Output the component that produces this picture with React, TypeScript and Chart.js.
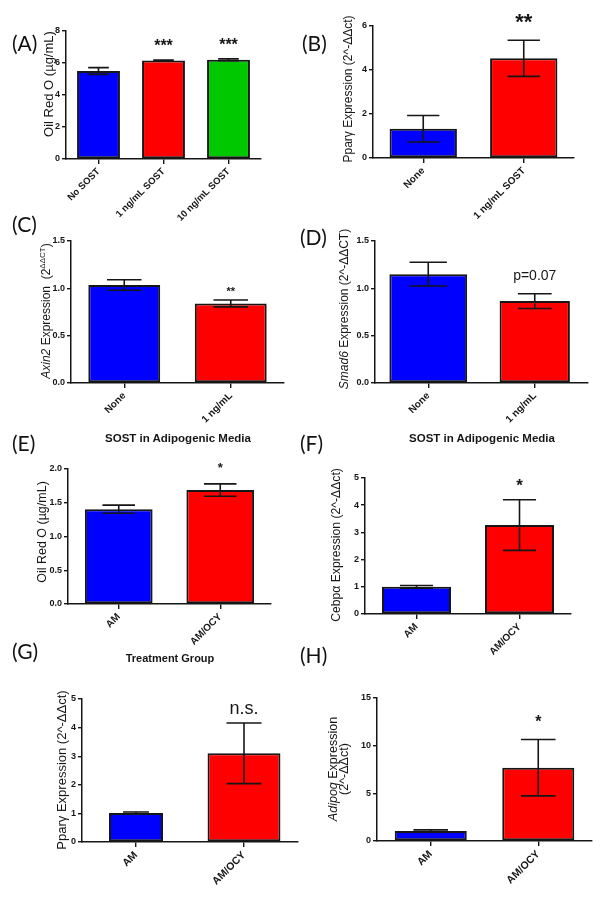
import React, { useEffect, useRef } from "react";
import { Chart, registerables } from "chart.js";

Chart.register(...registerables);

const FONT = "'Liberation Sans', Arial, Helvetica, sans-serif";
const LABEL_FONT = "Lato, 'Open Sans', sans-serif";
const INK = "#161616";
const BLUE = "#0000FF";
const RED = "#FF0000";
const GREEN = "#00C800";

// ---- Panel A: Oil Red O, SOST dose ----
const catsA = ["No SOST", "1 ng/mL SOST", "10 ng/mL SOST"];
const meanA = [5.5, 6.15, 6.2];
const semA = [0.21, 0.03, 0.06];
const sigA = ["", "***", "***"];
const ticksA = [0, 2, 4, 6, 8];

// ---- Panel B: Ppary ----
const catsB = ["None", "1 ng/mL SOST"];
const meanB = [1.33, 4.53];
const semB = [0.6, 0.82];
const sigB = ["", "**"];
const ticksB = [0, 2, 4, 6];

// ---- Panel C: Axin2 ----
const catsC = ["None", "1 ng/mL"];
const meanC = [1.035, 0.84];
const semC = [0.055, 0.036];
const sigC = ["", "**"];
const ticksC = [0, 0.5, 1.0, 1.5];

// ---- Panel D: Smad6 ----
const catsD = ["None", "1 ng/mL"];
const meanD = [1.15, 0.865];
const semD = [0.125, 0.078];
const sigD = ["", "p=0.07"];
const ticksD = [0, 0.5, 1.0, 1.5];

// ---- Panel E: Oil Red O, AM vs AM/OCY ----
const catsE = ["AM", "AM/OCY"];
const meanE = [1.405, 1.688];
const semE = [0.06, 0.092];
const sigE = ["", "*"];
const ticksE = [0, 0.5, 1.0, 1.5, 2.0];

// ---- Panel F: Cebpa ----
const catsF = ["AM", "AM/OCY"];
const meanF = [1.0, 3.27];
const semF = [0.05, 0.93];
const sigF = ["", "*"];
const ticksF = [0, 1, 2, 3, 4, 5];

// ---- Panel G: Ppary ----
const catsG = ["AM", "AM/OCY"];
const meanG = [1.01, 3.1];
const semG = [0.04, 1.06];
const sigG = ["", "n.s."];
const ticksG = [0, 1, 2, 3, 4, 5];

// ---- Panel H: Adipoq ----
const catsH = ["AM", "AM/OCY"];
const meanH = [1.05, 7.69];
const semH = [0.12, 2.96];
const sigH = ["", "*"];
const ticksH = [0, 5, 10, 15];

type PanelCfg = {
  cats: string[];
  means: number[];
  sems: number[];
  sigs: string[];
  ticks: number[];
  dec: number;
  colors: string[];
  widths: number[];
  area: [number, number, number, number];
  sigFont: string;
  sigGap: number;
  xFont: number;
};

const PAD_L = 40;
const PAD_T = 34;
const PAD_R = 10;
const PAD_B = 80;

const panels: PanelCfg[] = [
  { cats: catsA, means: meanA, sems: semA, sigs: sigA, ticks: ticksA, dec: 0, colors: [BLUE, RED, GREEN], widths: [0.66, 0.66, 0.66], area: [66, 31, 261, 159], sigFont: `bold 16px ${FONT}`, sigGap: 9, xFont: 9.5 },
  { cats: catsB, means: meanB, sems: semB, sigs: sigB, ticks: ticksB, dec: 0, colors: [BLUE, RED], widths: [0.67, 0.67], area: [373, 26, 574, 158], sigFont: `bold 22px ${FONT}`, sigGap: 11, xFont: 10 },
  { cats: catsC, means: meanC, sems: semC, sigs: sigC, ticks: ticksC, dec: 1, colors: [BLUE, RED], widths: [0.675, 0.675], area: [71, 241, 284, 383], sigFont: `bold 11px ${FONT}`, sigGap: 5, xFont: 10 },
  { cats: catsD, means: meanD, sems: semD, sigs: sigD, ticks: ticksD, dec: 1, colors: [BLUE, RED], widths: [0.73, 0.66], area: [375, 241, 588, 383], sigFont: `14px ${FONT}`, sigGap: 14, xFont: 10 },
  { cats: catsE, means: meanE, sems: semE, sigs: sigE, ticks: ticksE, dec: 1, colors: [BLUE, RED], widths: [0.667, 0.667], area: [68, 469, 271, 604], sigFont: `bold 13px ${FONT}`, sigGap: 12, xFont: 10 },
  { cats: catsF, means: meanF, sems: semF, sigs: sigF, ticks: ticksF, dec: 0, colors: [BLUE, RED], widths: [0.67, 0.67], area: [365, 478, 571, 614], sigFont: `bold 17px ${FONT}`, sigGap: 9, xFont: 10 },
  { cats: catsG, means: meanG, sems: semG, sigs: sigG, ticks: ticksG, dec: 0, colors: [BLUE, RED], widths: [0.5, 0.675], area: [82, 699, 298, 842], sigFont: `18px ${FONT}`, sigGap: 9.5, xFont: 10.5 },
  { cats: catsH, means: meanH, sems: semH, sigs: sigH, ticks: ticksH, dec: 0, colors: [BLUE, RED], widths: [0.67, 0.67], area: [377, 698, 592, 841], sigFont: `bold 16px ${FONT}`, sigGap: 12, xFont: 10.5 },
];

function ChartPanel({ p }: { p: PanelCfg }) {
  const ref = useRef<HTMLCanvasElement | null>(null);
  const [L, T, R, B] = p.area;
  const left = L - PAD_L;
  const top = T - PAD_T;
  const w = R - L + PAD_L + PAD_R;
  const h = B - T + PAD_T + PAD_B;

  useEffect(() => {
    const canvas = ref.current;
    if (!canvas) return;

    const errorBars = {
      id: "errorBars",
      afterDatasetsDraw(chart: any) {
        const { ctx } = chart;
        const y = chart.scales.y;
        ctx.save();
        ctx.strokeStyle = INK;
        ctx.lineWidth = 1.6;
        p.means.forEach((m, i) => {
          const el = chart.getDatasetMeta(i).data[i];
          if (!el) return;
          const cx = el.x;
          const half = (el.width * 0.48) / 2;
          const yt = y.getPixelForValue(m + p.sems[i]);
          const yb = y.getPixelForValue(m - p.sems[i]);
          ctx.beginPath();
          ctx.moveTo(cx, yt);
          ctx.lineTo(cx, yb);
          ctx.moveTo(cx - half, yt);
          ctx.lineTo(cx + half, yt);
          ctx.moveTo(cx - half, yb);
          ctx.lineTo(cx + half, yb);
          ctx.stroke();
        });
        ctx.restore();
      },
    };

    const sigMarks = {
      id: "sigMarks",
      afterDraw(chart: any) {
        const { ctx } = chart;
        const y = chart.scales.y;
        ctx.save();
        ctx.font = p.sigFont;
        ctx.fillStyle = INK;
        ctx.textAlign = "center";
        ctx.textBaseline = "alphabetic";
        p.sigs.forEach((s, i) => {
          if (!s) return;
          const el = chart.getDatasetMeta(i).data[i];
          if (!el) return;
          const yt = y.getPixelForValue(p.means[i] + p.sems[i]);
          ctx.fillText(s, el.x, yt - p.sigGap);
        });
        ctx.restore();
      },
    };

    const gridOpts = {
      display: true,
      drawOnChartArea: false,
      drawTicks: true,
      tickLength: 4,
      color: INK,
      lineWidth: 1.4,
    };

    const chart = new Chart(canvas, {
      type: "bar",
      data: {
        labels: p.cats,
        datasets: p.cats.map((c, i) => ({
          label: c,
          data: p.means.map((v, j) => (j === i ? v : null)),
          backgroundColor: p.colors[i],
          borderColor: INK,
          borderWidth: 2,
          borderSkipped: false,
          barPercentage: p.widths[i],
          categoryPercentage: 1,
          grouped: false,
        })),
      },
      options: {
        responsive: false,
        maintainAspectRatio: false,
        animation: false,
        layout: { padding: { left: 0, top: PAD_T, right: PAD_R, bottom: 0 } },
        plugins: {
          legend: { display: false },
          tooltip: { enabled: false },
        },
        scales: {
          x: {
            offset: true,
            grid: { ...gridOpts, offset: false, tickLength: 5 },
            border: { display: true, color: INK, width: 1.5 },
            ticks: {
              color: INK,
              font: { family: FONT, size: p.xFont, weight: "bold" },
              minRotation: 45,
              maxRotation: 45,
              autoSkip: false,
              padding: 2,
            },
            afterFit: (s: any) => {
              s.height = PAD_B;
            },
          },
          y: {
            min: p.ticks[0],
            max: p.ticks[p.ticks.length - 1],
            grid: gridOpts,
            border: { display: true, color: INK, width: 1.5 },
            ticks: {
              color: INK,
              font: { family: FONT, size: 9, weight: "bold" },
              stepSize: p.ticks[1] - p.ticks[0],
              padding: 2,
              callback: (v: any) => Number(v).toFixed(p.dec),
            },
            afterFit: (s: any) => {
              s.width = PAD_L;
            },
          },
        },
      } as any,
      plugins: [errorBars, sigMarks],
    });
    return () => chart.destroy();
  }, [p]);

  return (
    <canvas
      ref={ref}
      width={w}
      height={h}
      style={{ position: "absolute", left, top, width: w, height: h }}
    />
  );
}

type TitleProps = {
  cx: number;
  cy: number;
  size: number;
  children: React.ReactNode;
  vertical?: boolean;
  bold?: boolean;
  lh?: number;
};

function AxisTitle({ cx, cy, size, children, vertical, bold, lh }: TitleProps) {
  const BW = 240;
  const BH = 40;
  return (
    <div
      style={{
        position: "absolute",
        left: cx - BW / 2,
        top: cy - BH / 2,
        width: BW,
        height: BH,
        display: "flex",
        alignItems: "center",
        justifyContent: "center",
        transform: vertical ? "rotate(-90deg)" : undefined,
        transformOrigin: "50% 50%",
      }}
    >
      <div
        style={{
          whiteSpace: "nowrap",
          fontFamily: FONT,
          fontSize: size,
          fontWeight: bold ? "bold" : "normal",
          color: INK,
          lineHeight: lh ?? 1.1,
          textAlign: "center",
        }}
      >
        {children}
      </div>
    </div>
  );
}

function PanelLabel({ x, cy, text }: { x: number; cy: number; text: string }) {
  return (
    <div
      style={{
        position: "absolute",
        left: x,
        top: cy - 11,
        height: 22,
        fontFamily: LABEL_FONT,
        fontSize: 21,
        color: "#111",
        lineHeight: "22px",
        whiteSpace: "nowrap",
      }}
    >
      {text}
    </div>
  );
}

export default function App() {
  return (
    <div
      style={{
        position: "absolute",
        left: 0,
        top: 0,
        width: 604,
        height: 900,
        background: "#fff",
        overflow: "hidden",
      }}
    >
      {panels.map((p, i) => (
        <ChartPanel key={i} p={p} />
      ))}

      <PanelLabel x={12} cy={43} text="(A)" />
      <PanelLabel x={302} cy={43} text="(B)" />
      <PanelLabel x={12} cy={224} text="(C)" />
      <PanelLabel x={300} cy={237} text="(D)" />
      <PanelLabel x={12} cy={443} text="(E)" />
      <PanelLabel x={300} cy={443} text="(F)" />
      <PanelLabel x={12} cy={651} text="(G)" />
      <PanelLabel x={300} cy={655} text="(H)" />

      <AxisTitle cx={49} cy={84} size={13} vertical>
        Oil Red O (µg/mL)
      </AxisTitle>
      <AxisTitle cx={349} cy={89} size={12} vertical>
        Pparγ Expression (2^-ΔΔct)
      </AxisTitle>
      <AxisTitle cx={46} cy={311} size={12} vertical>
        <i>Axin2</i> Expression&nbsp; (2<sup style={{ fontSize: 8 }}>ΔΔCT</sup>)
      </AxisTitle>
      <AxisTitle cx={345} cy={309} size={12} vertical>
        <i>Smad6</i> Expression (2^-ΔΔCT)
      </AxisTitle>
      <AxisTitle cx={43} cy={532} size={12.5} vertical>
        Oil Red O (µg/mL)
      </AxisTitle>
      <AxisTitle cx={337} cy={545} size={12.2} vertical>
        Cebpα Expression (2^-ΔΔct)
      </AxisTitle>
      <AxisTitle cx={62} cy={770} size={13} vertical>
        Pparγ Expression (2^-ΔΔct)
      </AxisTitle>
      <AxisTitle cx={339} cy={769} size={12.5} vertical lh={0.85}>
        <i>Adipoq</i> Expression
        <br />
        (2^-ΔΔct)
      </AxisTitle>

      <AxisTitle cx={178} cy={438} size={11.5} bold>
        SOST in Adipogenic Media
      </AxisTitle>
      <AxisTitle cx={482} cy={438} size={11.5} bold>
        SOST in Adipogenic Media
      </AxisTitle>
      <AxisTitle cx={170} cy={658} size={11} bold>
        Treatment Group
      </AxisTitle>
    </div>
  );
}
